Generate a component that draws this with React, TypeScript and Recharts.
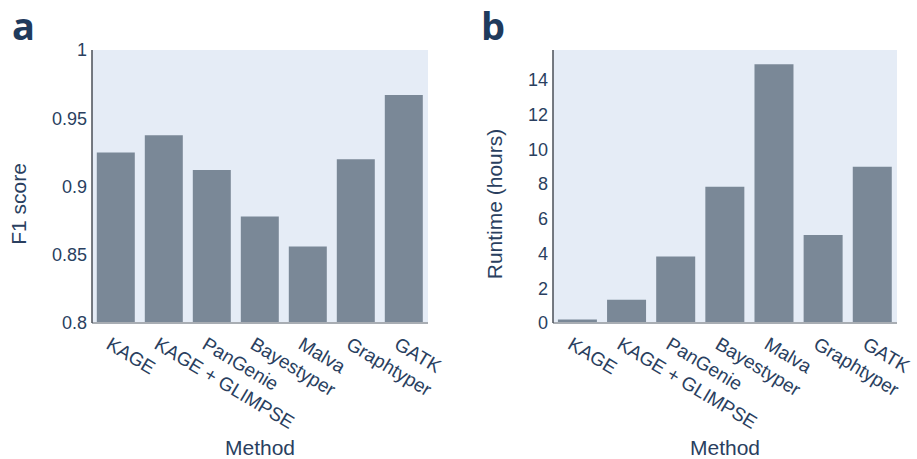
import { BarChart, Bar, XAxis, YAxis, CartesianGrid } from 'recharts';

const methods = ['KAGE', 'KAGE + GLIMPSE', 'PanGenie', 'Bayestyper', 'Malva', 'Graphtyper', 'GATK'];
const f1Scores = [0.925, 0.9375, 0.912, 0.878, 0.856, 0.92, 0.967];
const runtimeHours = [0.2, 1.34, 3.82, 7.83, 14.88, 5.06, 8.98];
const f1Ticks = [0.8, 0.85, 0.9, 0.95, 1];
const runtimeTicks = [0, 2, 4, 6, 8, 10, 12, 14];

const FONT = '"Liberation Sans", Arial, sans-serif';
const TEXT = '#2a3f5f';
const BAR = '#7a8897';
const BG = '#e5ecf6';

const f1Data = methods.map((m, i) => ({ method: m, value: f1Scores[i] }));
const runtimeData = methods.map((m, i) => ({ method: m, value: runtimeHours[i] }));

const AngledTick = (props: any) => {
  const { x, y, payload } = props;
  return (
    <g transform={`translate(${x - 4},${y + 13}) rotate(31)`}>
      <text x={0} y={0} dy="0.72em" textAnchor="start" fill={TEXT} fontSize={19} fontFamily={FONT}>
        {payload.value}
      </text>
    </g>
  );
};

const YTitle = ({ text, cx }: { text: string; cx: number }) => (
  <text
    x={cx}
    y={204}
    transform={`rotate(-90, ${cx}, 204)`}
    textAnchor="middle"
    dominantBaseline="central"
    fill={TEXT}
    fontSize={21}
    fontFamily={FONT}
  >
    {text}
  </text>
);

const XTitle = (props: any) => {
  const { viewBox } = props;
  const cx = viewBox.x + viewBox.width / 2;
  return (
    <text x={cx} y={455} textAnchor="middle" fill={TEXT} fontSize={21} fontFamily={FONT}>
      Method
    </text>
  );
};

interface PanelProps {
  data: { method: string; value: number }[];
  domain: [number, number];
  ticks: number[];
  title: string;
  titleX: number;
  width: number;
  marginLeft: number;
  marginRight: number;
  yWidth: number;
}

function Panel({ data, domain, ticks, title, titleX, width, marginLeft, marginRight, yWidth }: PanelProps) {
  return (
    <BarChart
      width={width}
      height={459}
      data={data}
      margin={{ top: 50, right: marginRight, bottom: 36, left: marginLeft }}
      barCategoryGap="10%"
    >
      <CartesianGrid fill={BG} horizontal={false} vertical={false} />
      <XAxis
        dataKey="method"
        interval={0}
        height={100}
        tickLine={false}
        tickSize={0}
        tickMargin={0}
        tick={<AngledTick />}
        axisLine={{ stroke: '#a8adb3', strokeWidth: 2 }}
        label={<XTitle />}
      />
      <YAxis
        type="number"
        domain={domain}
        ticks={ticks}
        allowDataOverflow
        width={yWidth}
        tickLine={false}
        tickSize={0}
        tickMargin={5}
        axisLine={{ stroke: '#4a4f57', strokeWidth: 1.5 }}
        tick={{ fill: TEXT, fontSize: 18, fontFamily: FONT }}
        label={<YTitle text={title} cx={titleX} />}
      />
      <Bar dataKey="value" fill={BAR} isAnimationActive={false} />
    </BarChart>
  );
}

const letterStyle: React.CSSProperties = {
  position: 'absolute',
  top: 2,
  fontFamily: '"Open Sans", sans-serif',
  fontWeight: 700,
  fontSize: 38,
  color: '#1f3a5c',
  lineHeight: '46px',
};

export default function App() {
  return (
    <div style={{ position: 'absolute', left: 0, top: 0, width: 917, height: 459, background: '#fff' }}>
      <div style={{ position: 'absolute', left: 0, top: 0 }}>
        <Panel
          data={f1Data}
          domain={[0.8, 1]}
          ticks={f1Ticks}
          title="F1 score"
          titleX={18}
          width={458}
          marginLeft={30}
          marginRight={30}
          yWidth={62}
        />
      </div>
      <div style={{ position: 'absolute', left: 458, top: 0 }}>
        <Panel
          data={runtimeData}
          domain={[0, 15.7]}
          ticks={runtimeTicks}
          title="Runtime (hours)"
          titleX={36}
          width={459}
          marginLeft={35}
          marginRight={20}
          yWidth={60}
        />
      </div>
      <div style={{ ...letterStyle, left: 12 }}>a</div>
      <div style={{ ...letterStyle, left: 481 }}>b</div>
    </div>
  );
}
